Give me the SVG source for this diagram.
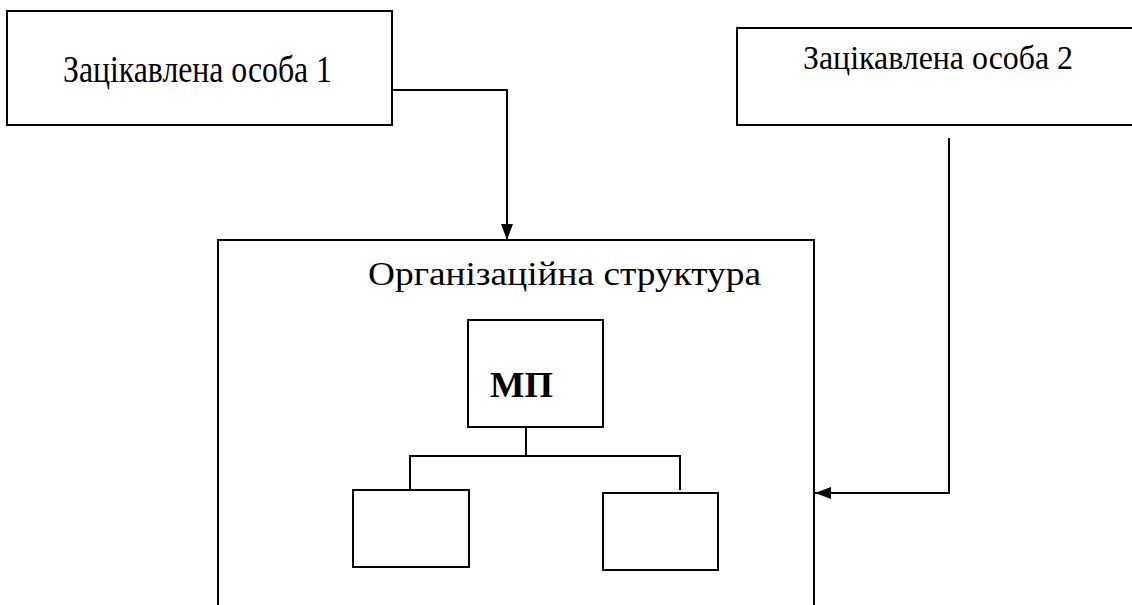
<svg xmlns="http://www.w3.org/2000/svg" width="1132" height="605" viewBox="0 0 1132 605">
  <style>
    .box { fill: #ffffff; stroke: #000000; stroke-width: 2; }
    .line { fill: none; stroke: #000000; stroke-width: 2; }
    .txt { font-family: "Liberation Serif", "Times New Roman", serif; fill: #000000; }
    .bold { font-weight: bold; }
  </style>
  <defs>
    <marker id="arrow" viewBox="0 0 16 12" refX="16" refY="6" markerWidth="16" markerHeight="12" markerUnits="userSpaceOnUse" orient="auto">
      <path d="M0,0 L16,6 L0,12 Z" fill="#000000"/>
    </marker>
  </defs>
  <rect width="1132" height="605" fill="#ffffff"/>

  <g id="node-stakeholder1">
    <rect class="box" x="7" y="11" width="385" height="114"/>
    <text class="txt" x="63" y="82" font-size="38" textLength="269" lengthAdjust="spacingAndGlyphs">Зацікавлена особа 1</text>
  </g>

  <g id="node-stakeholder2">
    <rect class="box" x="737" y="28" width="400" height="97"/>
    <text class="txt" x="803" y="69" font-size="33" textLength="270" lengthAdjust="spacingAndGlyphs">Зацікавлена особа 2</text>
  </g>

  <g id="node-orgstructure">
    <rect class="box" x="218" y="240" width="596" height="400"/>
    <text class="txt" x="368" y="285" font-size="33" textLength="393" lengthAdjust="spacingAndGlyphs">Організаційна структура</text>
  </g>

  <g id="node-mp">
    <rect class="box" x="468" y="320" width="135" height="107"/>
    <text class="txt bold" x="490" y="397" font-size="36" textLength="63" lengthAdjust="spacingAndGlyphs">МП</text>
  </g>

  <g id="node-child-left">
    <rect class="box" x="353" y="490" width="116" height="77"/>
  </g>

  <g id="node-child-right">
    <rect class="box" x="603" y="493" width="115" height="77"/>
  </g>

  <g id="connectors">
    <path class="line" d="M392,90 H507 V240" marker-end="url(#arrow)"/>
    <path class="line" d="M949,138 V493 H815" marker-end="url(#arrow)"/>
    <path class="line" d="M526,427 V456"/>
    <path class="line" d="M410,490 V456 H680 V490"/>
  </g>
</svg>
